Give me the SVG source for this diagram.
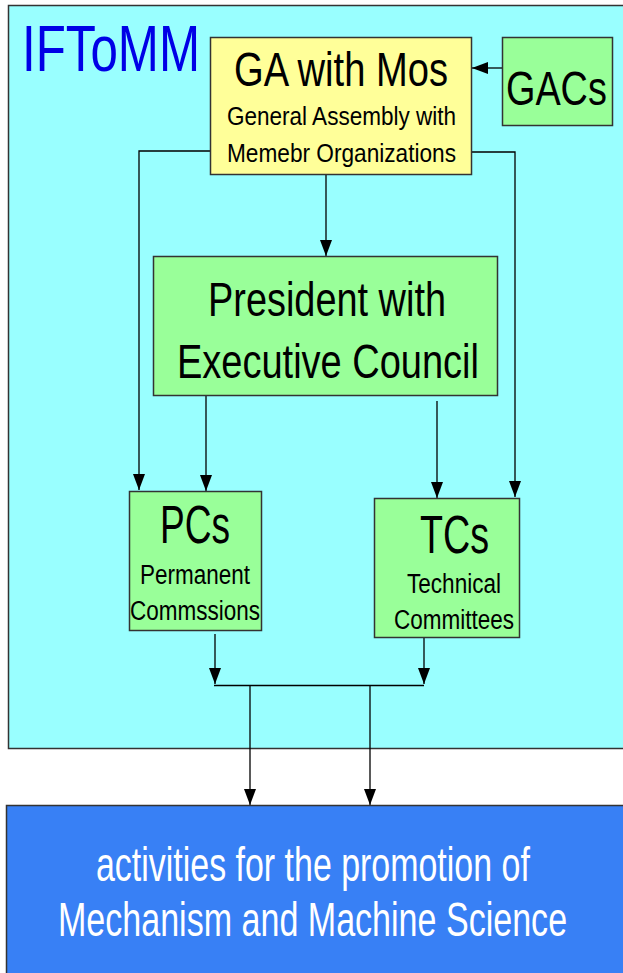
<svg xmlns="http://www.w3.org/2000/svg" width="623" height="973" viewBox="0 0 623 973">
  <style>
    .t { font-family: "Liberation Sans Narrow", "Liberation Sans", Arial, sans-serif; fill: #000; }
    .big { font-size: 48px; }
    .mid { font-size: 54px; }
    .small { font-size: 26px; }
    .sub { font-size: 27px; }
    .box { stroke: #333; stroke-width: 1.5; }
    .green { fill: #99ff99; }
    .conn { fill: none; stroke: #000; stroke-width: 1.3; }
    .white { fill: #ffffff; }
  </style>
  <defs>
    <!-- filled triangular arrowhead, tip at the end of the line -->
    <marker id="arrow" viewBox="0 0 16 12" refX="16" refY="6" markerWidth="16" markerHeight="12" orient="auto" markerUnits="userSpaceOnUse">
      <path d="M0,0 L16,6 L0,12 Z" fill="#000"/>
    </marker>
  </defs>

  <rect width="623" height="973" fill="#ffffff"/>

  <!-- organisation frame -->
  <g id="iftomm">
    <rect x="8.5" y="5.5" width="620" height="743" fill="#99ffff" class="box"/>
    <text class="t" x="22" y="71" font-size="64" style="fill:#0000e6" textLength="178" lengthAdjust="spacingAndGlyphs">IFToMM</text>
  </g>

  <!-- connectors -->
  <g id="connectors">
    <path class="conn" d="M502,68 L472,68" marker-end="url(#arrow)"/>
    <path class="conn" d="M210,151 L139,151 L139,490" marker-end="url(#arrow)"/>
    <path class="conn" d="M472,152 L515,152 L515,497" marker-end="url(#arrow)"/>
    <path class="conn" d="M326,175 L326,256" marker-end="url(#arrow)"/>
    <path class="conn" d="M206,396 L206,491" marker-end="url(#arrow)"/>
    <path class="conn" d="M437,401 L437,498" marker-end="url(#arrow)"/>
    <path class="conn" d="M215,634 L215,684" marker-end="url(#arrow)"/>
    <path class="conn" d="M424,638 L424,684" marker-end="url(#arrow)"/>
    <path class="conn" d="M214,685.5 L424,685.5"/>
    <path class="conn" d="M250,685 L250,805" marker-end="url(#arrow)"/>
    <path class="conn" d="M370,685 L370,805" marker-end="url(#arrow)"/>
  </g>

  <!-- General Assembly -->
  <g id="ga">
    <rect x="210.5" y="37.5" width="261" height="137" fill="#ffff99" class="box"/>
    <text class="t big" x="234" y="86" textLength="214" lengthAdjust="spacingAndGlyphs">GA with Mos</text>
    <text class="t small" x="227" y="125" textLength="229" lengthAdjust="spacingAndGlyphs">General Assembly with</text>
    <text class="t small" x="227" y="162" textLength="229" lengthAdjust="spacingAndGlyphs">Memebr Organizations</text>
  </g>

  <!-- GACs (condensed lettering) -->
  <g id="gacs">
    <rect x="502.5" y="37.5" width="110" height="88" class="box green"/>
    <text class="t big" transform="translate(506 105) scale(0.8 1)" textLength="126" lengthAdjust="spacingAndGlyphs">GACs</text>
  </g>

  <!-- President with Executive Council -->
  <g id="president">
    <rect x="153.5" y="256.5" width="344" height="139" class="box green"/>
    <text class="t big" x="208" y="316" textLength="238" lengthAdjust="spacingAndGlyphs">President with</text>
    <text class="t big" x="177" y="378" textLength="302" lengthAdjust="spacingAndGlyphs">Executive Council</text>
  </g>

  <!-- Permanent Commissions -->
  <g id="pcs">
    <rect x="129.5" y="491.5" width="132" height="139" class="box green"/>
    <text class="t mid" x="160" y="543" textLength="70" lengthAdjust="spacingAndGlyphs">PCs</text>
    <text class="t sub" x="140" y="584" textLength="110" lengthAdjust="spacingAndGlyphs">Permanent</text>
    <text class="t sub" x="130" y="620" textLength="130" lengthAdjust="spacingAndGlyphs">Commssions</text>
  </g>

  <!-- Technical Committees -->
  <g id="tcs">
    <rect x="374.5" y="498.5" width="145" height="139" class="box green"/>
    <text class="t mid" x="420" y="553" textLength="69" lengthAdjust="spacingAndGlyphs">TCs</text>
    <text class="t sub" x="407" y="593" textLength="94" lengthAdjust="spacingAndGlyphs">Technical</text>
    <text class="t sub" x="394" y="629" textLength="120" lengthAdjust="spacingAndGlyphs">Committees</text>
  </g>

  <!-- Activities (condensed lettering) -->
  <g id="activities">
    <rect x="6.5" y="805.5" width="620" height="172" fill="#3880f5" class="box"/>
    <text class="t big white" transform="translate(96 881) scale(0.71 1)" textLength="611" lengthAdjust="spacingAndGlyphs">activities for the promotion of</text>
    <text class="t big white" transform="translate(58 936) scale(0.71 1)" textLength="717" lengthAdjust="spacingAndGlyphs">Mechanism and Machine Science</text>
  </g>
</svg>
